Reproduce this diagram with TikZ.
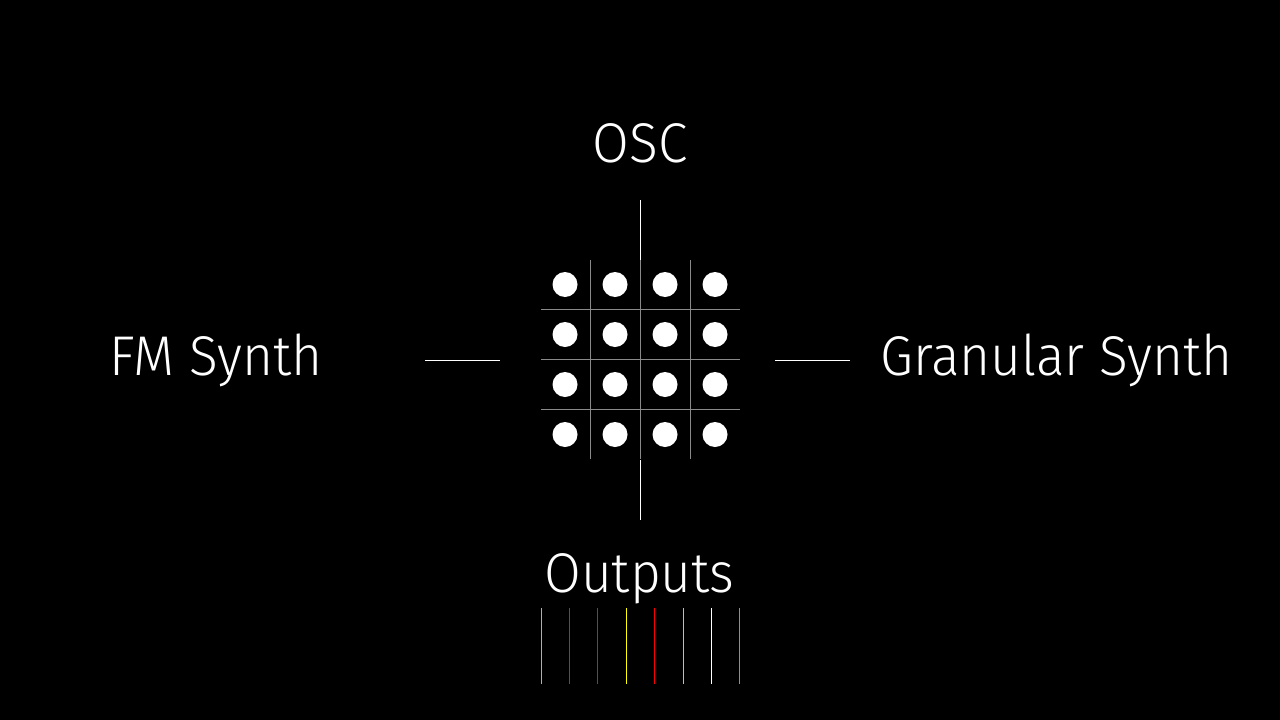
\documentclass[tikz,border=0pt]{standalone}
\usepackage{fontspec}
\setmainfont{Fira Sans}[UprightFont={* Light}, FakeStretch=0.95]
\definecolor{gridgray}{HTML}{8A8A8A}
\definecolor{outgreen}{HTML}{92D050}
\definecolor{outslate}{HTML}{44546A}
\definecolor{outpurple}{HTML}{7030A0}
\definecolor{outyellow}{HTML}{FFFF00}
\definecolor{outred}{HTML}{FF0000}
\definecolor{outorange}{HTML}{FFC000}
\definecolor{outwhite}{HTML}{FFFFFF}
\definecolor{outblue}{HTML}{5B9BD5}
\tikzset{
  lbl/.style={text=white, font=\fontsize{56}{60}\selectfont, inner sep=0pt, anchor=base},
  conn/.style={draw=white, line width=1pt},
  gridline/.style={draw=gridgray, line width=1pt},
  dot/.style={circle, fill=white, minimum size=25pt, inner sep=0pt},
  outline/.style={line width=1.2pt},
}
\begin{document}
\begin{tikzpicture}[x=1pt,y=-1pt]
\fill[black] (0,0) rectangle (1280,720);
\useasboundingbox (0,0) rectangle (1280,720);

% labels
\node[lbl] (osc) at (640,162.5) {OSC};
\node[lbl] (fm) at (216,375) {FM Synth};
\node[lbl] (gran) at (1056.5,375) {Granular Synth};
\node[lbl] (outs) at (639.5,592.5) {Outputs};

% connector end points
\coordinate (oscA) at (640,200);
\coordinate (oscB) at (640,260);
\coordinate (fmA) at (425,360);
\coordinate (fmB) at (500,360);
\coordinate (grA) at (775,360);
\coordinate (grB) at (850,360);
\coordinate (ouA) at (640,460);
\coordinate (ouB) at (640,520);

% grid lines
\foreach \x [count=\i] in {590,640,690} {
  \coordinate (vt\i) at (\x,260);
  \coordinate (vb\i) at (\x,459);
  \draw[gridline] (vt\i) -- (vb\i);
}
\foreach \y [count=\i] in {309.5,359.5,409.5} {
  \coordinate (hl\i) at (541,\y);
  \coordinate (hr\i) at (740,\y);
  \draw[gridline] (hl\i) -- (hr\i);
}

% connectors
\draw[conn] (oscA) -- (oscB);
\draw[conn] (fmA) -- (fmB);
\draw[conn] (grA) -- (grB);
\draw[conn] (ouA) -- (ouB);

% dots
\foreach \r/\y in {1/284.5,2/334.5,3/384.5,4/434.5} {
  \foreach \c/\x in {1/565,2/615,3/665,4/715} {
    \node[dot] (d\r\c) at (\x,\y) {};
  }
}

% output lines
\foreach \x/\col [count=\i] in {541.7/outgreen,569.5/outslate,597.5/outpurple,626.3/outyellow,654.3/outred,683.3/outorange,711.3/outwhite,739.3/outblue} {
  \coordinate (ot\i) at (\x,608);
  \coordinate (ob\i) at (\x,684);
  \draw[outline, draw=\col] (ot\i) -- (ob\i);
}
\end{tikzpicture}
\end{document}
